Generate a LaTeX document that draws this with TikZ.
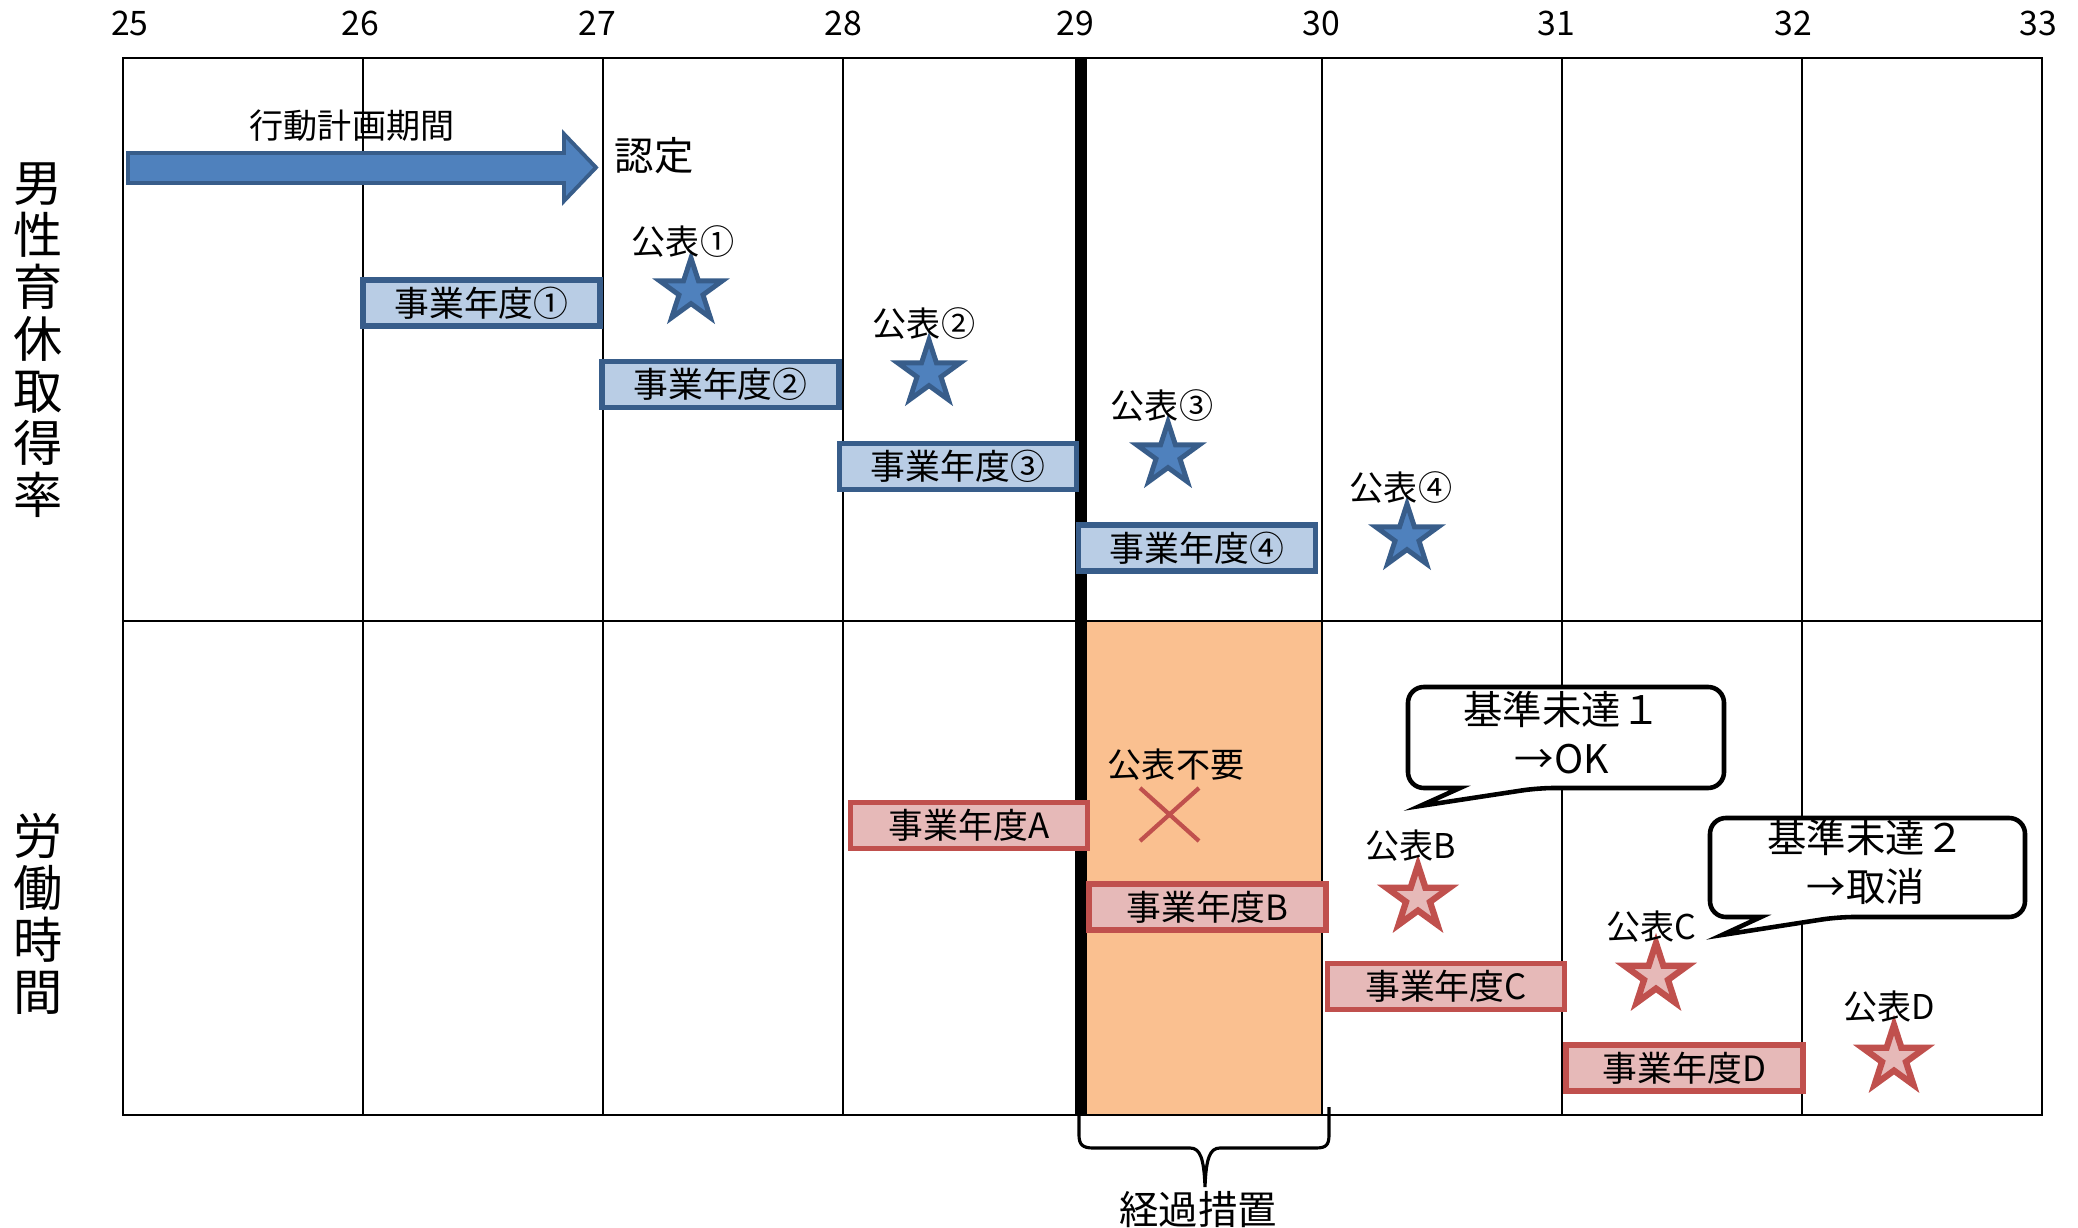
\documentclass[tikz,border=0pt]{standalone}
\usepackage{fontspec}
\setmainfont{Noto Sans CJK JP}
\usetikzlibrary{calc}
\definecolor{bfill}{HTML}{4F81BD}
\definecolor{bdark}{HTML}{385D8A}
\definecolor{bbox}{HTML}{B9CDE5}
\definecolor{rfill}{HTML}{E6B9B8}
\definecolor{rdark}{HTML}{C0504D}
\definecolor{orng}{HTML}{FAC090}
\tikzset{
  gridline/.style={line width=0.6pt, black},
  bluebox/.style={draw=bdark, fill=bbox, line width=1.5pt, minimum width=2.37cm, minimum height=0.46cm, inner sep=0pt, font=\fontsize{9.9pt}{11pt}\selectfont},
  redbox/.style={draw=rdark, fill=rfill, line width=1.5pt, minimum width=2.37cm, minimum height=0.46cm, inner sep=0pt, font=\fontsize{9.9pt}{11pt}\selectfont},
  lbl/.style={inner sep=0pt, font=\fontsize{9.7pt}{11pt}\selectfont},
  biglbl/.style={inner sep=0pt, font=\fontsize{11.2pt}{13.9pt}\selectfont, align=center},
  yearlbl/.style={inner sep=0pt, font=\fontsize{9.6pt}{11pt}\selectfont},
  sidelbl/.style={inner sep=0pt, font=\fontsize{14pt}{14.8pt}\selectfont, align=center},
  callout/.style={draw=black, fill=white, line width=1.3pt},
  pics/bstar/.style={code={\draw[line width=1.4pt, draw=bdark, fill=bfill]
     (270:33) -- (306:12.6) -- (342:33) -- (18:12.6) -- (54:33) -- (90:12.6)
     -- (126:33) -- (162:12.6) -- (198:33) -- (234:12.6) -- cycle;}},
  pics/rstar/.style={code={\draw[line width=1.8pt, draw=rdark, fill=rfill]
     (270:33) -- (306:12.6) -- (342:33) -- (18:12.6) -- (54:33) -- (90:12.6)
     -- (126:33) -- (162:12.6) -- (198:33) -- (234:12.6) -- cycle;}},
}
\begin{document}
\begin{tikzpicture}[x=0.01cm,y=-0.01cm]
\useasboundingbox (0,0) rectangle (2078,1228);
% transition region
\fill[orng] (1087,621) rectangle (1322,1115);
% grid
\draw[gridline] (123,58) rectangle (2042,1115);
\draw[gridline] (123,621) -- (2042,621);
\foreach \gx in {363,603,843,1322,1562,1802}
  \draw[gridline] (\gx,58) -- (\gx,1115);
\draw[line width=3.4pt] (1081,58) -- (1081,1115);
% years
\node[yearlbl] (y25) at (130,23) {25};
\node[yearlbl] (y26) at (360,23) {26};
\node[yearlbl] (y27) at (597,23) {27};
\node[yearlbl] (y28) at (843,23) {28};
\node[yearlbl] (y29) at (1075,23) {29};
\node[yearlbl] (y30) at (1321,23) {30};
\node[yearlbl] (y31) at (1556,23) {31};
\node[yearlbl] (y32) at (1793,23) {32};
\node[yearlbl] (y33) at (2038,23) {33};
% side labels
\node[sidelbl] (side1) at (38,340) {男\\性\\育\\休\\取\\得\\率};
\node[sidelbl] (side2) at (38,914) {労\\働\\時\\間};
% action plan arrow
\draw[line width=1.1pt, draw=bdark, fill=bfill]
  (128,153) -- (564,153) -- (564,134) -- (596,167.5) -- (564,201) -- (564,183) -- (128,183) -- cycle;
\node[lbl] (plan) at (352,126) {行動計画期間};
\node[biglbl] (nintei) at (654,156) {認定};
% blue fiscal years
\node[bluebox] (fy1) at (481.5,303) {事業年度①};
\node[bluebox] (fy2) at (720.5,384.5) {事業年度②};
\node[bluebox] (fy3) at (958,466.5) {事業年度③};
\node[bluebox] (fy4) at (1197,548) {事業年度④};
% blue stars
\pic at (691,291) {bstar};
\pic at (929,373) {bstar};
\pic at (1168,455) {bstar};
\pic at (1407,537) {bstar};
\node[lbl] (pub1) at (683,242) {公表①};
\node[lbl] (pub2) at (924,324) {公表②};
\node[lbl] (pub3) at (1162,406) {公表③};
\node[lbl] (pub4) at (1401,488) {公表④};
% red fiscal years
\node[redbox] (fyA) at (969,825.5) {事業年度A};
\node[redbox] (fyB) at (1207.5,907) {事業年度B};
\node[redbox] (fyC) at (1446,986.5) {事業年度C};
\node[redbox] (fyD) at (1684.5,1068) {事業年度D};
% cross
\node[lbl] (pubno) at (1176,765) {公表不要};
\coordinate (x1) at (1140,788);
\coordinate (x2) at (1199,841);
\coordinate (x3) at (1199,788);
\coordinate (x4) at (1140,841);
\draw[rdark, line width=1.2pt] (x1) -- (x2) (x3) -- (x4);
% red stars
\pic at (1418,898) {rstar};
\pic at (1656,976) {rstar};
\pic at (1894,1058) {rstar};
\node[lbl] (pubB) at (1411,846) {公表B};
\node[lbl] (pubC) at (1651,927) {公表C};
\node[lbl] (pubD) at (1889,1007) {公表D};
% callouts
\draw[callout] (1408,737) [rounded corners=4.5pt] -- (1408,687) -- (1724,687) -- (1724,788) -- (1538,788) [sharp corners] -- (1420,806) -- (1460,788) [rounded corners=4.5pt] -- (1408,788) -- cycle;
\node[biglbl] (c1) at (1562,733) {基準未達１\\→OK};
\draw[callout] (1710,868) [rounded corners=4.5pt] -- (1710,818) -- (2025,818) -- (2025,917) -- (1838,917) [sharp corners] -- (1722,935) -- (1761,917) [rounded corners=4.5pt] -- (1710,917) -- cycle;
\node[biglbl] (c2) at (1866,862) {基準未達２\\→取消};
% brace
\coordinate (bl) at (1079,1112);
\coordinate (br) at (1329,1107);
\coordinate (bt) at (1205,1187);
\draw[line width=0.9pt] (bl) -- (1079,1135) .. controls (1079,1145) and (1083,1148) .. (1093,1148)
  -- (1190,1148) .. controls (1200,1148) and (1204,1158) .. (bt)
  .. controls (1206,1158) and (1210,1148) .. (1220,1148) -- (1316,1148)
  .. controls (1326,1148) and (1329,1145) .. (1329,1135) -- (br);
\node[biglbl] (keika) at (1198,1210) {経過措置};
\end{tikzpicture}
\end{document}
